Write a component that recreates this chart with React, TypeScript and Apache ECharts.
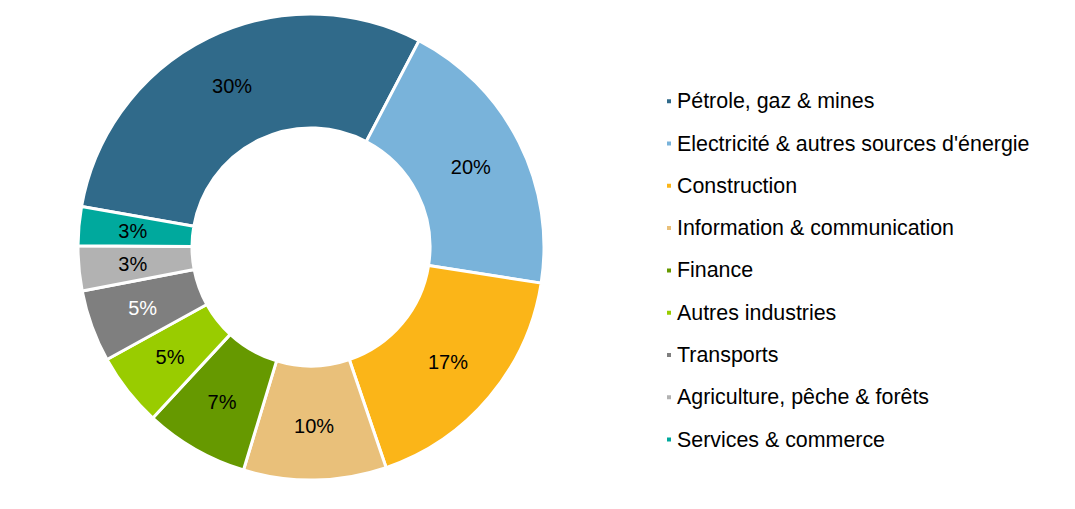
import React, { useEffect, useRef } from "react";
import * as echarts from "echarts";

const categories = [
  "Pétrole, gaz & mines",
  "Electricité & autres sources d'énergie",
  "Construction",
  "Information & communication",
  "Finance",
  "Autres industries",
  "Transports",
  "Agriculture, pêche & forêts",
  "Services & commerce",
];
const values = [29.9, 19.8, 17.3, 9.9, 7.2, 5.1, 5.0, 3.1, 2.7];
const colors = [
  "#306A8A",
  "#79B3DA",
  "#FBB518",
  "#E9C07A",
  "#669900",
  "#99CC00",
  "#7F7F7F",
  "#B2B2B2",
  "#00A99D",
];
const labelColors = ["#000", "#000", "#000", "#000", "#000", "#000", "#fff", "#000", "#000"];

export default function App() {
  const ref = useRef<HTMLDivElement>(null);
  useEffect(() => {
    if (!ref.current) return;
    const chart = echarts.init(ref.current, undefined, { renderer: "svg" });
    chart.setOption({
      animation: false,
      backgroundColor: "#fff",
      legend: {
        orient: "vertical",
        left: 660,
        top: 85.5,
        padding: 5,
        icon: "rect",
        itemWidth: 6,
        itemHeight: 6,
        itemGap: 20.9,
        textStyle: { fontFamily: "Liberation Sans, Arial, sans-serif", fontSize: 21.4, color: "#000", lineHeight: 21.4 },
        data: categories,
      },
      series: [
        {
          type: "pie",
          center: [311, 247],
          radius: [119, 233],
          startAngle: 170,
          clockwise: true,
          avoidLabelOverlap: false,
          itemStyle: { borderColor: "#fff", borderWidth: 3 },
          label: {
            show: true,
            position: "inside",
            fontFamily: "Liberation Sans, Arial, sans-serif",
            fontSize: 20,
            formatter: (p: any) => Math.round(p.value) + "%",
          },
          labelLine: { show: false },
          emphasis: { disabled: true },
          data: categories.map((name, i) => ({
            name,
            value: values[i],
            itemStyle: { color: colors[i] },
            label: { color: labelColors[i] },
          })),
        },
      ],
    });
    return () => chart.dispose();
  }, []);
  return (
    <div
      ref={ref}
      style={{ position: "fixed", left: 0, top: 0, width: 1075, height: 509 }}
    />
  );
}
